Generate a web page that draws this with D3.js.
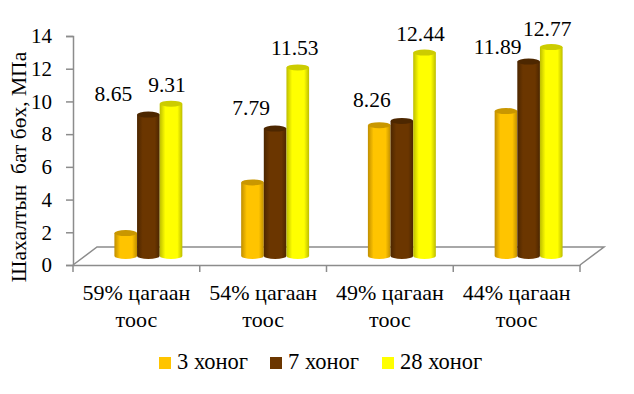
<!DOCTYPE html>
<html>
<head>
<meta charset="utf-8">
<script src="https://cdn.jsdelivr.net/npm/d3@7"></script>
<style>
  html, body { margin: 0; background: #fff; }
  text { font-family: "Liberation Serif", serif; fill: #000; }
</style>
</head>
<body>
<div id="chart"></div>
<script>
const categories = ['59% цагаан тоос', '54% цагаан тоос', '49% цагаан тоос', '44% цагаан тоос'];
const seriesNames = ['3 хоног', '7 хоног', '28 хоног'];
const days3 = [1.4, 4.5, 8.0, 8.86];
const days7 = [8.65, 7.79, 8.26, 11.89];
const days28 = [9.31, 11.53, 12.44, 12.77];
const yTicks = [0, 2, 4, 6, 8, 10, 12, 14];
const yTitle = 'Шахалтын  бат бөх, МПа';

// colours per series: side, middle, top cap
const colors = [
  {edge: '#c08e00', mid: '#ffc400', top: '#c99700'},
  {edge: '#4c2600', mid: '#6b3600', top: '#4d2700'},
  {edge: '#bdbd00', mid: '#ffff00', top: '#cccc00'}
];

// hand placed data labels in the original, dx/dy from the bar top
const labelShift7 = [[-35, -14], [-24, -14], [-30, -14], [-31, -8]];
const labelShift28 = [[-4, -12], [-3, -12], [-4, -12], [-4, -11]];

const W = 634, H = 394;
const depthX = 24, depthY = 18;
const grey = '#8c8c8c';

const svg = d3.select('#chart').append('svg').attr('width', W).attr('height', H);
const defs = svg.append('defs');

colors.forEach((c, i) => {
  const g = defs.append('linearGradient').attr('id', 'cyl' + i);
  g.append('stop').attr('offset', '0%').attr('stop-color', c.edge);
  g.append('stop').attr('offset', '25%').attr('stop-color', c.mid);
  g.append('stop').attr('offset', '78%').attr('stop-color', c.mid);
  g.append('stop').attr('offset', '100%').attr('stop-color', c.edge);
});

const xCat = d3.scaleBand().domain(categories).range([73, 580]);
const bw = xCat.bandwidth();
const xSeries = d3.scaleBand().domain(seriesNames).range([bw * 0.232, bw * 0.768]);
const y = d3.scaleLinear().domain([0, 14]).range([265, 36]);

// floor
svg.append('path')
  .attr('d', d3.line()([[73, 265], [73 + depthX, 265 - depthY], [580 + depthX, 265 - depthY], [580, 265]]))
  .attr('fill', 'none').attr('stroke', grey).attr('stroke-width', 1.5);

// y axis
const yAxis = d3.axisLeft(y).tickValues(yTicks).tickSize(7).tickPadding(14);
svg.append('g').attr('transform', 'translate(73,0)').call(yAxis)
  .call(g => g.select('.domain').attr('stroke', grey).attr('stroke-width', 1.5))
  .call(g => g.selectAll('.tick line').attr('stroke', grey).attr('stroke-width', 1.5))
  .call(g => g.selectAll('.tick text').attr('font-size', 21).attr('font-family', '"Liberation Serif", serif'));

// x axis, ticks sit between the categories
const xAxis = d3.axisBottom(xCat).tickSize(0).tickFormat('');
svg.append('g').attr('transform', 'translate(0,265)').call(xAxis)
  .call(g => g.select('.domain').attr('stroke', grey).attr('stroke-width', 1.5));
svg.append('g').selectAll('line')
  .data(categories.map(d => xCat(d)).concat([xCat.range()[1]]))
  .join('line')
  .attr('x1', d => d).attr('x2', d => d)
  .attr('y1', 265).attr('y2', 272)
  .attr('stroke', grey).attr('stroke-width', 1.5);

// category labels on two lines
const catLabel = svg.append('g').selectAll('text').data(categories).join('text')
  .attr('text-anchor', 'middle').attr('font-size', 22)
  .attr('transform', d => `translate(${xCat(d) + bw / 2},0)`);
catLabel.append('tspan').attr('x', 0).attr('y', 300).text(d => d.split(' ').slice(0, 2).join(' '));
catLabel.append('tspan').attr('x', 0).attr('y', 327).text(d => d.split(' ')[2]);

// bars
const allSeries = [days3, days7, days28];
const rx = xSeries.bandwidth() / 2, ry = 3;
allSeries.forEach((vals, s) => {
  const bars = svg.append('g').selectAll('g').data(vals).join('g')
    .attr('transform', (d, i) => `translate(${xCat(categories[i]) + depthX / 2 + xSeries(seriesNames[s]) + rx},0)`);
  bars.append('path')
    .attr('fill', `url(#cyl${s})`)
    .attr('d', d => {
      const top = y(d) - depthY / 2, base = y(0) - depthY / 2;
      return `M${-rx},${top}L${-rx},${base}A${rx},${ry} 0 0 0 ${rx},${base}L${rx},${top}Z`;
    });
  bars.append('ellipse')
    .attr('rx', rx).attr('ry', ry)
    .attr('cy', d => y(d) - depthY / 2)
    .attr('fill', colors[s].top);
});

// data labels
[[days7, 1, labelShift7], [days28, 2, labelShift28]].forEach(([vals, s, shift]) => {
  svg.append('g').selectAll('text').data(vals).join('text')
    .attr('text-anchor', 'middle').attr('font-size', 21.5)
    .attr('x', (d, i) => xCat(categories[i]) + depthX / 2 + xSeries(seriesNames[s]) + rx + shift[i][0])
    .attr('y', (d, i) => y(d) - depthY / 2 + shift[i][1])
    .text(d => d3.format('.2f')(d));
});

// y title
svg.append('text')
  .attr('transform', 'translate(26,167) rotate(-90)')
  .attr('text-anchor', 'middle').attr('font-size', 21.5)
  .style('white-space', 'pre')
  .text(yTitle);

// legend
const legendX = [159, 270, 382];
const legend = svg.append('g').selectAll('g').data(seriesNames).join('g')
  .attr('transform', (d, i) => `translate(${legendX[i]},363)`);
legend.append('rect').attr('x', 0).attr('y', -6).attr('width', 12).attr('height', 12)
  .attr('fill', (d, i) => colors[i].mid);
legend.append('text').attr('x', 18).attr('y', 6).attr('font-size', 22.5).text(d => d);
</script>
</body>
</html>
